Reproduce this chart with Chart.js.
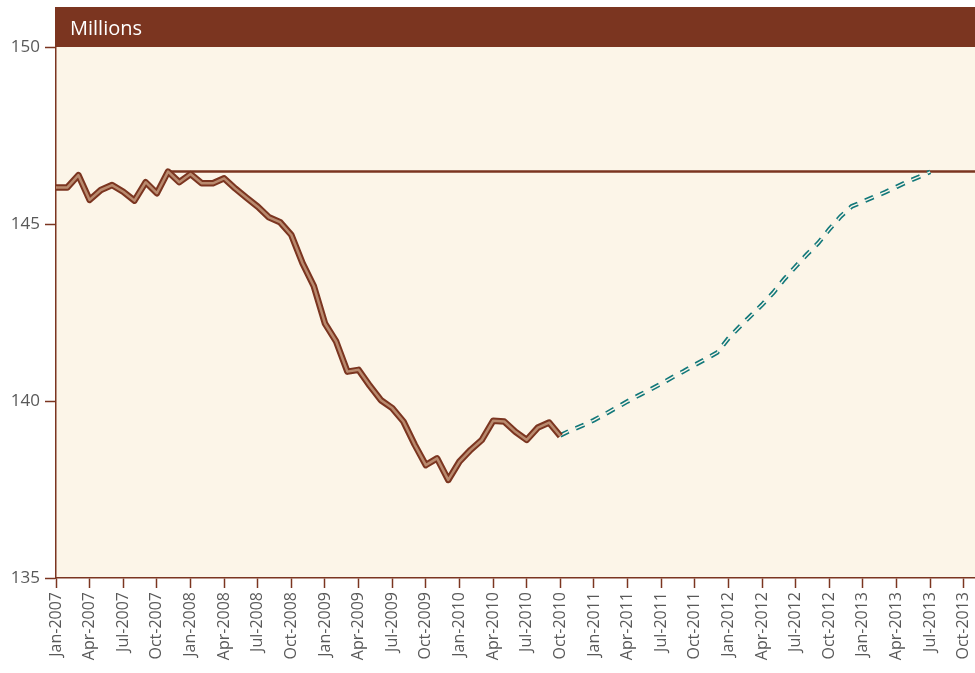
<!DOCTYPE html>
<html>
<head>
<meta charset="utf-8">
<script src="https://cdn.jsdelivr.net/npm/chart.js@4.4.1/dist/chart.umd.min.js"></script>
<style>
  html, body { margin: 0; padding: 0; background: #fff; }
  #wrap { width: 975px; height: 673px; position: relative; }
</style>
</head>
<body>
<div id="wrap"><canvas id="chart"></canvas></div>
<script>
// months Jan-2007 .. Nov-2013
const monthNames = ["Jan", "Feb", "Mar", "Apr", "May", "Jun", "Jul", "Aug", "Sep", "Oct", "Nov", "Dec"]
const categories = []
for (let y = 2007; y <= 2013; y++) {
  monthNames.forEach((m, i) => {
    if (y === 2013 && i > 10) return
    categories.push(m + "-" + y)
  })
}

// actual employment, Jan-2007 .. Oct-2010 (millions)
const actual = [
  146.03, 146.03, 146.38, 145.68, 145.96, 146.10, 145.91, 145.66, 146.18, 145.87, 146.48, 146.18,
  146.41, 146.15, 146.15, 146.29, 146.00, 145.74, 145.49, 145.19, 145.05, 144.69, 143.89, 143.25,
  142.19, 141.68, 140.83, 140.88, 140.43, 140.02, 139.80, 139.42, 138.77, 138.19, 138.38, 137.77,
  138.29, 138.62, 138.90, 139.44, 139.42, 139.13, 138.90, 139.25, 139.39, 139.01
]

// projected path, Oct-2010 .. Jul-2013
const projection = [
  139.03, 139.18, 139.31, 139.46, 139.63, 139.81, 139.99, 140.16, 140.32, 140.49, 140.67, 140.84,
  141.02, 141.19, 141.37, 141.77, 142.10, 142.41, 142.72, 143.06, 143.45, 143.80, 144.14, 144.46,
  144.85, 145.21, 145.50, 145.63, 145.77, 145.90, 146.05, 146.20, 146.33, 146.47
]
const projectionStart = 45 // Oct-2010

// previous peak level (Nov-2007) carried across
const peakLevel = 146.48
const peakStart = 10

const yTicks = [135, 140, 145, 150]

const brown = "#7b3520"
const teal = "#12787a"
const cream = "#fcf5e8"

const pad = (arr, start) => categories.map((_, i) => (i >= start && i - start < arr.length ? arr[i - start] : null))
const actualData = pad(actual, 0)
const projData = pad(projection, projectionStart)
const peakData = categories.map((_, i) => (i >= peakStart ? peakLevel : null))

const panelPlugin = {
  id: "panel",
  beforeDraw(chart) {
    const { ctx, chartArea } = chart
    ctx.save()
    ctx.fillStyle = cream
    ctx.fillRect(chartArea.left, chartArea.top, chartArea.right - chartArea.left, chartArea.bottom - chartArea.top)
    // header band
    ctx.fillStyle = brown
    ctx.fillRect(chartArea.left - 1, 7, chartArea.right - chartArea.left + 1, chartArea.top - 7)
    ctx.fillStyle = "#ffffff"
    ctx.font = "20px 'Open Sans', sans-serif"
    ctx.textBaseline = "middle"
    ctx.fillText("Millions", 70, 29)
    ctx.restore()
  }
}

const lineBase = { pointRadius: 0, tension: 0, spanGaps: false, borderCapStyle: "butt", borderJoinStyle: "miter" }

new Chart(document.getElementById("chart"), {
  type: "line",
  data: {
    labels: categories,
    datasets: [
      { ...lineBase, data: actualData, borderColor: "#b98a6e", borderWidth: 2.5, order: 0, borderJoinStyle: "round" },
      { ...lineBase, data: actualData, borderColor: brown, borderWidth: 6.5, order: 1, borderJoinStyle: "round" },
      { ...lineBase, data: projData, borderColor: cream, borderWidth: 1.4, borderDash: [9, 8], order: 2 },
      { ...lineBase, data: projData, borderColor: teal, borderWidth: 4.6, borderDash: [9, 8], order: 3 },
      { ...lineBase, data: peakData, borderColor: brown, borderWidth: 2.5, order: 4 }
    ]
  },
  options: {
    responsive: true,
    maintainAspectRatio: false,
    animation: false,
    layout: { padding: { top: 47, right: 0, left: 0, bottom: 0 } },
    plugins: { legend: { display: false }, tooltip: { enabled: false } },
    scales: {
      x: {
        type: "category",
        offset: false,
        afterFit: (s) => {
          s.height = 95
          s.paddingLeft = 0
          s.paddingRight = 0
        },
        border: { display: true, color: brown, width: 1.5 },
        grid: {
          drawOnChartArea: false,
          drawTicks: true,
          tickLength: 10,
          tickWidth: 1.5,
          tickColor: (c) => (c.index % 3 === 0 ? brown : "rgba(0,0,0,0)")
        },
        ticks: {
          autoSkip: false,
          maxRotation: 90,
          minRotation: 90,
          padding: 4,
          color: "#595959",
          font: { family: "'Open Sans', sans-serif", size: 16 },
          callback: (v, i) => (i % 3 === 0 ? categories[i] : "")
        }
      },
      y: {
        min: yTicks[0],
        max: yTicks[yTicks.length - 1],
        afterFit: (s) => {
          s.width = 56
          s.paddingTop = 0
          s.paddingBottom = 0
        },
        afterBuildTicks: (s) => { s.ticks = yTicks.map((v) => ({ value: v })) },
        border: { display: true, color: brown, width: 1.5 },
        grid: { drawOnChartArea: false, drawTicks: true, tickLength: 11, tickWidth: 1.5, tickColor: brown },
        ticks: {
          padding: 5,
          color: "#595959",
          font: { family: "'Open Sans', sans-serif", size: 17 }
        }
      }
    }
  },
  plugins: [panelPlugin]
})
</script>
</body>
</html>
